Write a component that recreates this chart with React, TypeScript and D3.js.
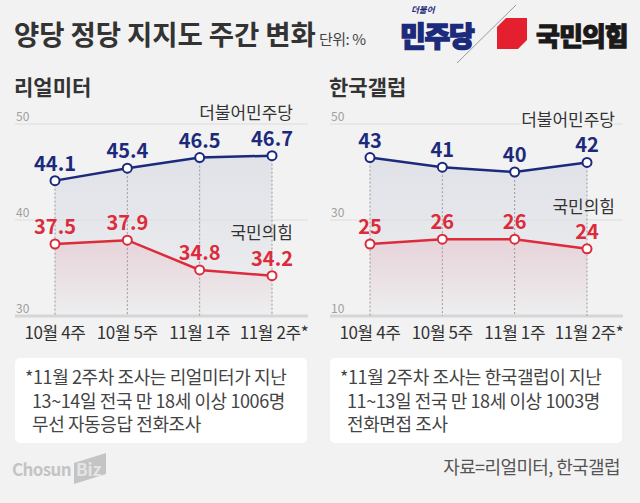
import * as d3 from 'd3';

const weeks = ['10월 4주', '10월 5주', '11월 1주', '11월 2주*'];
const realmeterDem = [44.1, 45.4, 46.5, 46.7];
const realmeterPpp = [37.5, 37.9, 34.8, 34.2];
const gallupDem = [43, 41, 40, 42];
const gallupPpp = [25, 26, 26, 24];
const realmeterTicks = [30, 40, 50];
const gallupTicks = [10, 30, 50];
const seriesNames = ['더불어민주당', '국민의힘'];
const realmeterNote = [
  '*11월 2주차 조사는 리얼미터가 지난',
  '13~14일 전국 만 18세 이상 1006명',
  '무선 자동응답 전화조사',
];
const gallupNote = [
  '*11월 2주차 조사는 한국갤럽이 지난',
  '11~13일 전국 만 18세 이상 1003명',
  '전화면접 조사',
];

const FONT = '"Noto Sans CJK KR", "Noto Sans", sans-serif';
const BLUE = '#1c2a7c';
const RED = '#dc2b3b';
const BG = '#f2f2f2';

type PanelProps = {
  id: string;
  title: string;
  left: number;
  dem: number[];
  ppp: number[];
  ticks: number[];
  demLabelY: number;
  pppLabelY: number;
  labelRight: number;
  note: string[];
};

function Panel({ id, title, left, dem, ppp, ticks, demLabelY, pppLabelY, labelRight, note }: PanelProps) {
  const x = d3.scalePoint<string>().domain(weeks).range([left + 40, left + 257]);
  const yExtent = d3.extent(ticks) as [number, number];
  const y = d3.scaleLinear().domain(yExtent).range([316, 124]);
  const gridL = left;
  const gridR = left + 293;

  const line = d3
    .line<number>()
    .x((_, i) => x(weeks[i]) as number)
    .y((d) => y(d));
  const area = d3
    .area<number>()
    .x((_, i) => x(weeks[i]) as number)
    .y0(y(yExtent[0]))
    .y1((d) => y(d));

  const series = [
    { values: dem, color: BLUE, grad: `${id}-blue` },
    { values: ppp, color: RED, grad: `${id}-red` },
  ];

  return (
    <g>
      <defs>
        <linearGradient id={`${id}-blue`} x1='0' y1='0' x2='0' y2='1'>
          <stop offset='0' stopColor={BLUE} stopOpacity={0.08} />
          <stop offset='1' stopColor={BLUE} stopOpacity={0.02} />
        </linearGradient>
        <linearGradient id={`${id}-red`} x1='0' y1='0' x2='0' y2='1'>
          <stop offset='0' stopColor={RED} stopOpacity={0.11} />
          <stop offset='1' stopColor={RED} stopOpacity={0} />
        </linearGradient>
      </defs>
      <text x={left - 1} y={95} fontSize={21} fontWeight={700} fill='#333' fontFamily={FONT}>
        {title}
      </text>
      {series.map((s) => (
        <path key={s.grad} d={area(s.values) ?? ''} fill={`url(#${s.grad})`} />
      ))}
      {ticks.map((t) => (
        <g key={t}>
          <line
            x1={gridL}
            x2={gridR}
            y1={y(t)}
            y2={y(t)}
            stroke={t === yExtent[0] ? '#d6d6d6' : '#dcdcdc'}
            strokeWidth={t === yExtent[0] ? 3 : 1}
          />
          <text x={gridL + 1} y={y(t) - 3} fontSize={12} fill='#a0a0a0' fontFamily={FONT}>
            {t}
          </text>
        </g>
      ))}
      {weeks.map((w, i) => (
        <line
          key={w}
          x1={x(w)}
          x2={x(w)}
          y1={y(dem[i])}
          y2={y(yExtent[0])}
          stroke='#9a9a9a'
          strokeWidth={1}
          strokeDasharray='2,2'
        />
      ))}
      <text
        x={labelRight}
        y={demLabelY}
        textAnchor='end'
        fontSize={17}
        fill='#333'
        fontFamily={FONT}
        stroke={BG}
        strokeWidth={4}
        paintOrder='stroke'>
        {seriesNames[0]}
      </text>
      <text
        x={labelRight}
        y={pppLabelY}
        textAnchor='end'
        fontSize={17}
        fill='#333'
        fontFamily={FONT}>
        {seriesNames[1]}
      </text>
      {series.map((s) => (
        <g key={s.color}>
          <path d={line(s.values) ?? ''} fill='none' stroke={s.color} strokeWidth={2.5} />
          {s.values.map((v, i) => (
            <g key={i}>
              <circle cx={x(weeks[i])} cy={y(v)} r={4.5} fill='#fff' stroke={s.color} strokeWidth={2} />
              <text
                x={x(weeks[i])}
                y={y(v) - 10}
                textAnchor='middle'
                fontSize={20}
                fontWeight={700}
                fill={s.color}
                fontFamily={FONT}>
                {v}
              </text>
            </g>
          ))}
        </g>
      ))}
      {weeks.map((w) => (
        <text
          key={w}
          x={(x(w) as number) + (w.endsWith('*') ? 2 : 0)}
          y={339}
          textAnchor='middle'
          fontSize={17}
          letterSpacing={-0.4}
          fill='#333'
          fontFamily={FONT}>
          {w}
        </text>
      ))}
      <rect x={left} y={358} width={292} height={85} rx={5} fill='#fff' />
      {note.map((n, i) => (
        <text
          key={i}
          x={left + (i === 0 ? 10 : 17)}
          y={384 + i * 23.5}
          fontSize={18}
          letterSpacing={-0.4}
          fill='#444'
          fontFamily={FONT}>
          {n}
        </text>
      ))}
    </g>
  );
}

export default function App() {
  return (
    <svg
      width={640}
      height={503}
      style={{ position: 'fixed', top: 0, left: 0, background: BG }}>
      <rect width={640} height={503} fill={BG} />
      <text x={14} y={45} fontSize={27.5} fontWeight={700} letterSpacing={-0.1} fill='#333' fontFamily={FONT}>
        양당 정당 지지도 주간 변화
      </text>
      <text x={319} y={45} fontSize={15} letterSpacing={-0.5} fill='#444' fontFamily={FONT}>
        단위: %
      </text>
      {/* party marks */}
      <text x={411} y={13} fontSize={8.5} fontWeight={700} fill={BLUE} fontFamily={FONT} fontStyle='italic'>
        더불어
      </text>
      <text
        x={400}
        y={47}
        fontSize={28}
        fontWeight={900}
        letterSpacing={-1.2}
        fill={BLUE}
        stroke={BLUE}
        strokeWidth={1.4}
        fontFamily={FONT}>
        민주당
      </text>
      <line x1={457} y1={63} x2={516} y2={5} stroke='#999' strokeWidth={1} />
      <polygon points='506,18 527,18 527,40 518,49 497,49 497,27' fill='#e5202e' />
      <text
        x={536}
        y={46}
        fontSize={26}
        fontWeight={900}
        letterSpacing={-1}
        fill='#1a1a1a'
        stroke='#1a1a1a'
        strokeWidth={1}
        fontFamily={FONT}>
        국민의힘
      </text>
      <Panel
        id='rm'
        title='리얼미터'
        left={15}
        dem={realmeterDem}
        ppp={realmeterPpp}
        ticks={realmeterTicks}
        demLabelY={119}
        pppLabelY={239}
        labelRight={293}
        note={realmeterNote}
      />
      <Panel
        id='gl'
        title='한국갤럽'
        left={330}
        dem={gallupDem}
        ppp={gallupPpp}
        ticks={gallupTicks}
        demLabelY={126}
        pppLabelY={213}
        labelRight={615}
        note={gallupNote}
      />
      {/* footer */}
      <text x={12} y={476} fontSize={17} fontWeight={700} letterSpacing={-0.6} fill='#c4c4c4' fontFamily={FONT}>
        Chosun
      </text>
      <polygon points='74,463 106,453 106,474 74,484' fill='#c4c4c4' />
      <text x={76} y={476} fontSize={17} fontWeight={700} fill='#e4e4e4' fontFamily={FONT}>
        Biz
      </text>
      <text x={620} y={474} textAnchor='end' fontSize={18} letterSpacing={-0.6} fill='#555' fontFamily={FONT}>
        자료=리얼미터, 한국갤럽
      </text>
    </svg>
  );
}
